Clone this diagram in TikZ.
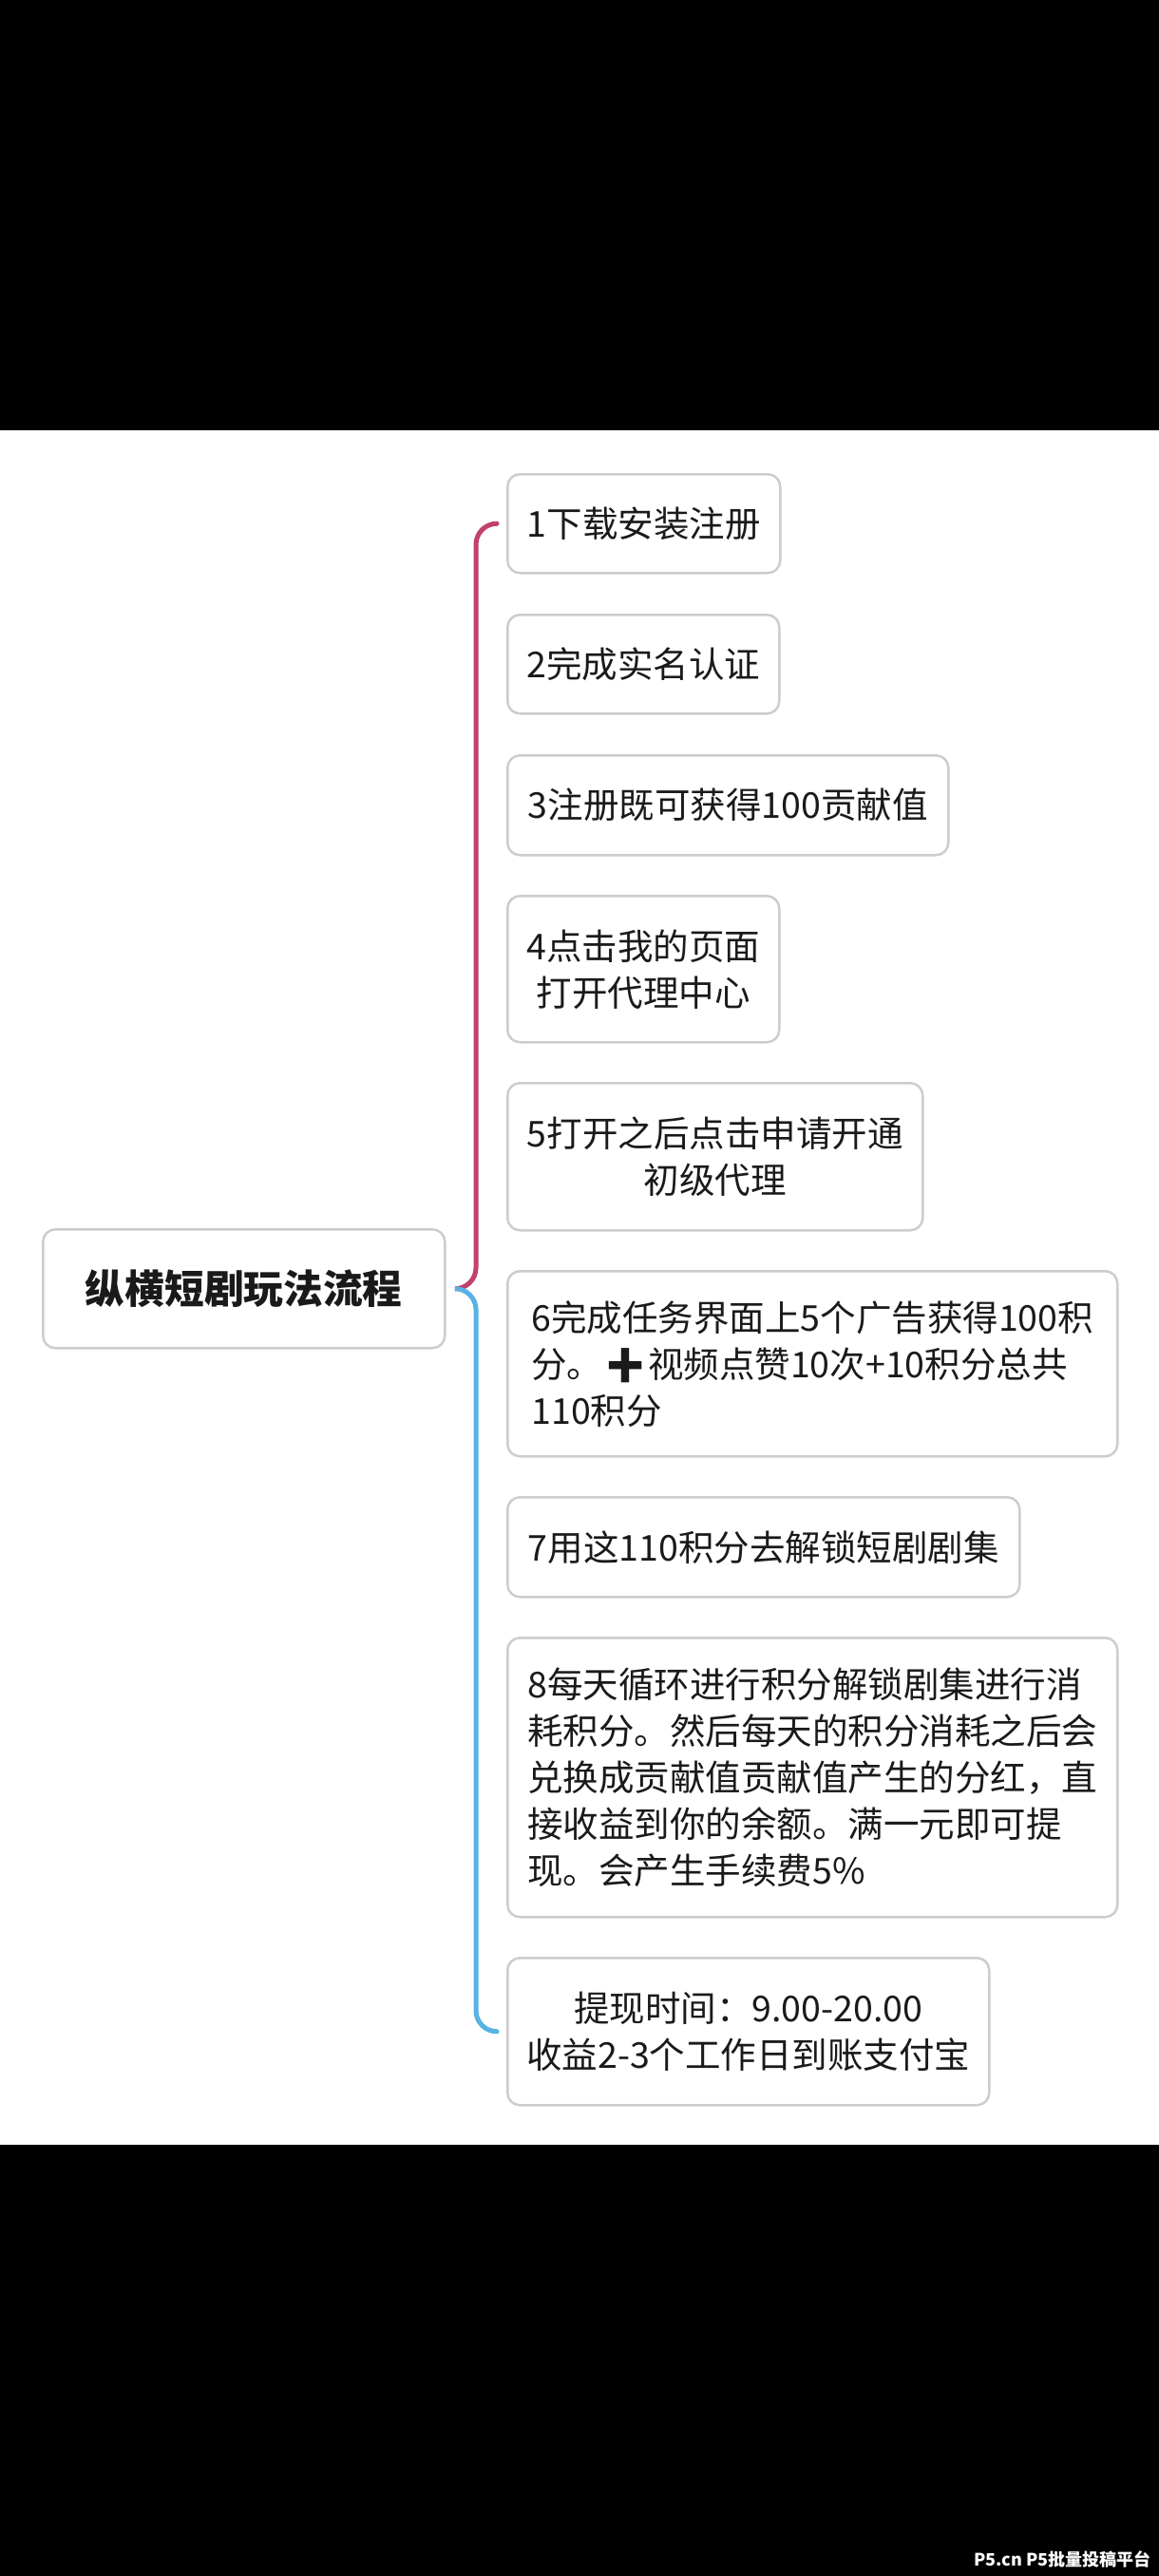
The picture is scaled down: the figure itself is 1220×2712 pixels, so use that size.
\documentclass[tikz,border=0pt]{standalone}
\usepackage{xcolor}
\usepackage{fontspec}
\usepackage{tikz}
\setmainfont{Noto Sans CJK SC}
\newfontfamily\emojifont{Noto Emoji}

\definecolor{boxgray}{HTML}{CDCDCD}
\definecolor{inkblack}{HTML}{1A1A1A}
\definecolor{topred}{HTML}{C2416E}
\definecolor{lowblue}{HTML}{58B2E6}

\tikzset{
  leaf/.style={draw=boxgray,line width=2.5pt,rounded corners=13pt,fill=white,
    anchor=north west,inner sep=0pt,text=inkblack,
    font=\fontsize{37.5pt}{49pt}\selectfont},
  branch/.style={line width=5pt,line cap=round,rounded corners=22pt}
}

\begin{document}
\begin{tikzpicture}[x=1pt,y=-1pt]
\useasboundingbox (0,0) rectangle (1220,2712);
\fill[black] (0,0) rectangle (1220,453);
\fill[white] (0,453) rectangle (1220,2258);
\fill[black] (0,2258) rectangle (1220,2712);

\node[leaf,minimum width=423pt,minimum height=125pt,font=\fontsize{41.7pt}{50pt}\selectfont\bfseries](root) at (44,1293){纵横短剧玩法流程};

\node[leaf,minimum width=287pt,minimum height=104pt](st1) at (533,498){1下载安装注册};
\node[leaf,minimum width=286pt,minimum height=104pt](st2) at (533,646){2完成实名认证};
\node[leaf,minimum width=464pt,minimum height=105pt](st3) at (533,794){3注册既可获得100贡献值};
\node[leaf,minimum width=286pt,minimum height=154pt,align=center](st4) at (533,942){4点击我的页面\\打开代理中心};
\node[leaf,minimum width=437pt,minimum height=155pt,align=center](st5) at (533,1139){5打开之后点击申请开通\\初级代理};
\node[leaf,minimum width=642pt,minimum height=195pt,align=left](st6) at (533,1337){6完成任务界面上5个广告获得100积\\分。{\emojifont ➕}视频点赞10次+10积分总共\\110积分};
\node[leaf,minimum width=539pt,minimum height=105pt](st7) at (533,1575){7用这110积分去解锁短剧剧集};
\node[leaf,minimum width=642pt,minimum height=294pt,align=left](st8) at (533,1723){8每天循环进行积分解锁剧集进行消\\耗积分。然后每天的积分消耗之后会\\兑换成贡献值贡献值产生的分红，直\\接收益到你的余额。满一元即可提\\现。会产生手续费5\%};
\node[leaf,minimum width=507pt,minimum height=155pt,align=center](st9) at (533,2060){提现时间：9.00-20.00\\收益2-3个工作日到账支付宝};

\draw[branch,topred]([xshift=10pt]root.east) -| ([xshift=-32pt]st1.west) -- ([xshift=-10pt]st1.west);
\draw[branch,lowblue]([xshift=10pt]root.east) -| ([xshift=-32pt]st9.west) -- ([xshift=-10pt]st9.west);

\node[anchor=east,text=white,font=\fontsize{18pt}{20pt}\selectfont\bfseries](wm) at (1215,2694){P5.cn P5批量投稿平台};
\end{tikzpicture}
\end{document}
